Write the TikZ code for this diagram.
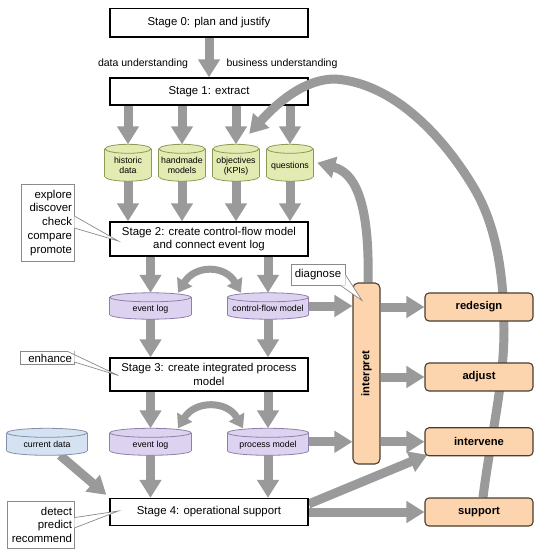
\documentclass[tikz,border=0pt]{standalone}
\usepackage{fontspec}
\setmainfont{Liberation Sans}
\usetikzlibrary{arrows.meta}
\definecolor{agray}{HTML}{9A9A9A}
\definecolor{gfill}{HTML}{E3EBB3}
\definecolor{gline}{HTML}{8C9A55}
\definecolor{pfill}{HTML}{DDD2EF}
\definecolor{pline}{HTML}{8E80AA}
\definecolor{bfill}{HTML}{D5E2F1}
\definecolor{bline}{HTML}{8292AA}
\definecolor{ofill}{HTML}{FCD4AE}
\definecolor{oline}{HTML}{4A3C30}
\definecolor{cline}{HTML}{8A8A8A}
\pgfdeclarelayer{bg}\pgfdeclarelayer{mid}\pgfdeclarelayer{fg}
\pgfsetlayers{bg,mid,main,fg}
\newcommand\mycyl[4]{%
 \begin{pgfonlayer}{mid}
 \filldraw[fill=#3,draw=#4,line width=0.8pt] ([yshift=4.5pt]#1.south) ellipse[x radius=#2,y radius=4.5];
 \fill[#3] ([yshift=4.5pt]#1.south west) rectangle ([yshift=-4.5pt]#1.north east);
 \draw[#4,line width=0.8pt] ([yshift=4.5pt]#1.south west) -- ([yshift=-4.5pt]#1.north west)
   ([yshift=4.5pt]#1.south east) -- ([yshift=-4.5pt]#1.north east);
 \filldraw[fill=#3,draw=#4,line width=0.8pt] ([yshift=-4.5pt]#1.north) ellipse[x radius=#2,y radius=4.5];
 \end{pgfonlayer}}
\newcommand\ct[2]{\raisebox{#1}[0pt][0pt]{\begin{tabular}{@{}c@{}}#2\end{tabular}}}
\begin{document}
\begin{tikzpicture}[x=1pt,y=1pt,
 stagebox/.style={draw=black,line width=1.3pt,fill=white,minimum width=198pt,inner sep=0pt,align=center,font=\fontsize{11.4}{13.2}\selectfont},
 lbl/.style={inner sep=0pt,font=\fontsize{10.5}{12}\selectfont},
 cylnode/.style={inner sep=0pt,font=\fontsize{8.8}{10}\selectfont},
 callbox/.style={draw=cline,line width=0.7pt,fill=white,inner xsep=2pt,inner ysep=0pt,align=right,font=\fontsize{11.4}{13.8}\selectfont},
 obox/.style={draw=oline,line width=1.1pt,fill=ofill,rounded corners=4pt,minimum width=108pt,minimum height=28pt,inner sep=0pt,font=\bfseries\fontsize{11.2}{13}\selectfont},
 bigarrow/.style={draw=agray,line width=9pt,-{Triangle[width=21pt,length=18pt]}},
 dblarrow/.style={draw=agray,line width=7pt,{Triangle[width=17pt,length=13pt]}-{Triangle[width=17pt,length=13pt]}},
 wedgeline/.style={draw=cline,line width=0.7pt}]
\useasboundingbox (0,0) rectangle (541,-550);

% stage boxes
\node[stagebox,minimum height=28.4pt] (s0) at (209,-22.8) {Stage 0: plan and justify};
\node[stagebox,minimum height=27pt] (s1) at (209,-91.5) {Stage 1: extract};
\node[stagebox,minimum height=34pt] (s2) at (209,-239) {Stage 2: create control-flow model\\and connect event log};
\node[stagebox,minimum height=33pt] (s3) at (209,-374.5) {Stage 3: create integrated process\\model};
\node[stagebox,minimum height=27pt] (s4) at (209,-512) {Stage 4: operational support};

\node[lbl] (du) at (143,-64) {data understanding};
\node[lbl] (bu) at (282,-64) {business understanding};

% cylinders
\node[cylnode,minimum width=46pt,minimum height=36.5pt] (c1) at (128,-162.75) {\ct{-6pt}{historic\\data}};
\node[cylnode,minimum width=46pt,minimum height=36.5pt] (c2) at (182,-162.75) {\ct{-6pt}{handmade\\models}};
\node[cylnode,minimum width=46pt,minimum height=36.5pt] (c3) at (236,-162.75) {\ct{-6pt}{objectives\\(KPIs)}};
\node[cylnode,minimum width=46pt,minimum height=36.5pt] (c4) at (290,-162.75) {\ct{-6pt}{questions}};
\node[cylnode,minimum width=81pt,minimum height=26pt] (e1) at (150.5,-306) {\ct{-6pt}{event log}};
\node[cylnode,minimum width=81pt,minimum height=26pt] (cf) at (268,-306) {\ct{-6pt}{control-flow model}};
\node[cylnode,minimum width=81pt,minimum height=26.6pt] (e2) at (150.5,-441.8) {\ct{-6pt}{event log}};
\node[cylnode,minimum width=81pt,minimum height=26.6pt] (pm) at (268,-441.8) {\ct{-6pt}{process model}};
\node[cylnode,minimum width=80pt,minimum height=26.6pt] (cd) at (47,-441.8) {\ct{-6pt}{current data}};
\mycyl{c1}{23}{gfill}{gline}
\mycyl{c2}{23}{gfill}{gline}
\mycyl{c3}{23}{gfill}{gline}
\mycyl{c4}{23}{gfill}{gline}
\mycyl{e1}{40.5}{pfill}{pline}
\mycyl{cf}{40.5}{pfill}{pline}
\mycyl{e2}{40.5}{pfill}{pline}
\mycyl{pm}{40.5}{pfill}{pline}
\mycyl{cd}{40}{bfill}{bline}

% callouts
\node[callbox,text width=49pt,minimum height=76.5pt] (ex) at (47.5,-222.75) {explore\\discover\\check\\compare\\promote};
\node[callbox,text width=50pt,minimum height=13pt] (en) at (47,-358) {enhance};
\node[callbox,text width=62.4pt,minimum height=47.6pt] (dt) at (40.8,-524.8) {detect\\predict\\recommend};
\coordinate (extip) at ([xshift=9pt,yshift=-2pt]s2.west);
\coordinate (entip) at ([xshift=9pt,yshift=-1pt]s3.west);
\coordinate (dttip) at ([xshift=9pt,yshift=1pt]s4.west);
\fill[white] ([yshift=6.75pt]ex.east) -- (extip) -- ([yshift=-5.25pt]ex.east) -- cycle;
\draw[wedgeline] ([yshift=6.75pt]ex.east) -- (extip) -- ([yshift=-5.25pt]ex.east);
\fill[white] ([xshift=20pt]en.north) -- (entip) -- ([yshift=-4pt]en.east) -- (en.north east) -- cycle;
\draw[wedgeline] ([xshift=20pt]en.north) -- (entip) -- ([yshift=-4pt]en.east);
\fill[white] ([yshift=7.2pt]dt.east) -- (dttip) -- ([yshift=-3.2pt]dt.east) -- cycle;
\draw[wedgeline] ([yshift=7.2pt]dt.east) -- (dttip) -- ([yshift=-3.2pt]dt.east);

% orange boxes
\begin{pgfonlayer}{fg}
\node[obox,minimum width=27pt,minimum height=181pt,rounded corners=5pt] (ip) at (366.5,-373.5) {\rotatebox{90}{interpret}};
\node[obox] (rd) at (479,-307) {redesign};
\node[obox] (ad) at (479,-377) {adjust};
\node[obox] (iv) at (479,-441.75) {intervene};
\node[obox] (sp) at (479,-512) {support};
\node[callbox,align=center,text width=50pt,minimum height=21pt] (dg) at (318,-274.5) {diagnose};
\coordinate (dgtip) at ([xshift=-4.5pt,yshift=-18pt]ip.north);
\fill[white] (dg.east) -- (dgtip) -- ([xshift=-5pt]dg.south east) -- (dg.south east) -- cycle;
\draw[wedgeline] (dg.east) -- (dgtip) -- ([xshift=-5pt]dg.south east);
\end{pgfonlayer}

% big feedback arc (above stage boxes, below orange boxes)
\coordinate (objtip) at ([xshift=-10pt,yshift=10.5pt]c3.north east);
\draw[bigarrow] ([xshift=4pt]sp.north) .. controls (489.7,-442) and (504,-386) .. (504,-330)
  .. controls (504,-282) and (498.5,-229.3) .. (474,-188)
  .. controls (443.9,-137.3) and (394,-83) .. (335,-79)
  .. controls (301,-79) and (271.8,-108.8) .. (objtip);

% arrows
\begin{pgfonlayer}{bg}
\draw[bigarrow] (s0.south) -- (s1.north);
\foreach \q in {c1,c2,c3,c4}{
  \draw[bigarrow] (s1.south -| \q.north) -- (\q.north);
  \draw[bigarrow] (\q.south) -- (\q.south |- s2.north);}
\foreach \q in {e1,cf}{
  \draw[bigarrow] (s2.south -| \q.north) -- (\q.north);
  \draw[bigarrow] (\q.south) -- (\q.south |- s3.north);}
\foreach \q in {e2,pm}{
  \draw[bigarrow] (s3.south -| \q.north) -- (\q.north);
  \draw[bigarrow] (\q.south) -- (\q.south |- s4.north);}
\draw[bigarrow] ([xshift=13pt]cd.south) -- ([xshift=-3pt,yshift=3pt]s4.north west);
\draw[bigarrow] (cf.east) -- (cf.east -| ip.west);
\draw[bigarrow] (pm.east) -- (pm.east -| ip.west);
\foreach \o in {rd,ad,iv}{\draw[bigarrow] (ip.east |- \o.west) -- (\o.west);}
\draw[bigarrow] (s4.east) -- (sp.west);
\draw[bigarrow] ([yshift=8pt]s4.east) -- ([xshift=3pt,yshift=1.5pt]iv.south west);
\draw[dblarrow] ([xshift=27.5pt]e1.north) .. controls +(17,28) and +(-16,28) .. ([xshift=-27pt]cf.north);
\draw[dblarrow] ([xshift=27.5pt]e2.north) .. controls +(17,28) and +(-16,28) .. ([xshift=-25pt]pm.north);
\draw[bigarrow] ([xshift=1.5pt]ip.north) .. controls (370,-195) and (352,-172) .. ([xshift=4pt]c4.east);
\end{pgfonlayer}
\end{tikzpicture}
\end{document}
